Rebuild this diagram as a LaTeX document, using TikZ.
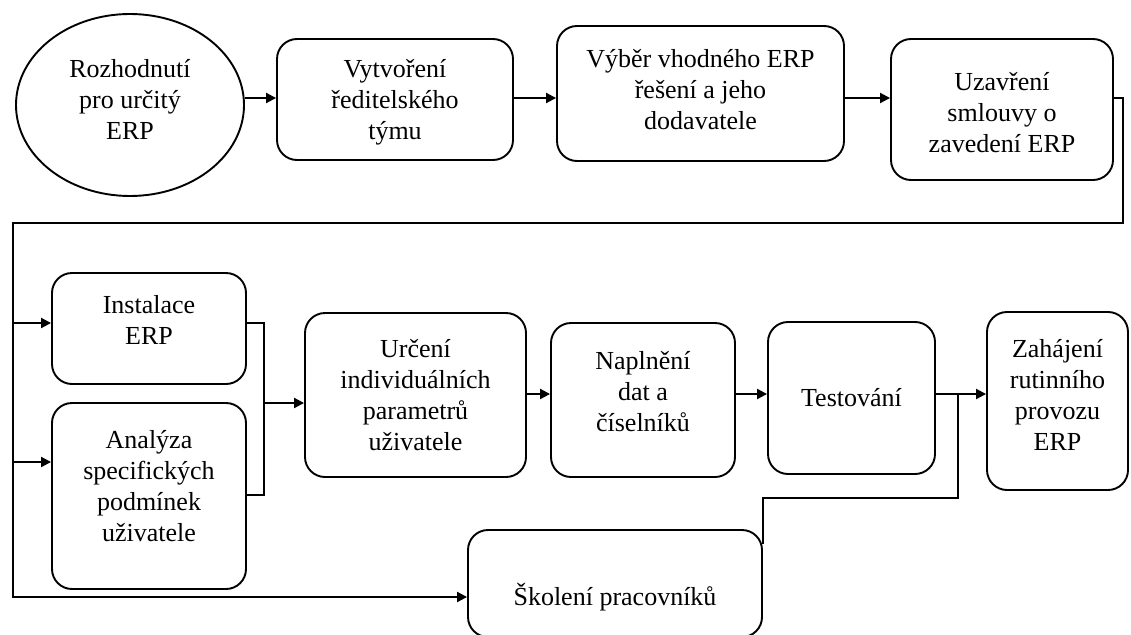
\documentclass[tikz,border=0pt]{standalone}
\usepackage{fontspec}
\setmainfont{Liberation Serif}
\usetikzlibrary{shapes.geometric,arrows.meta}
\begin{document}
\begin{tikzpicture}[x=1pt,y=-1pt,
  every node/.style={font=\fontsize{26}{31}\selectfont, align=center},
  stage/.style={draw, line width=1.9pt, rounded corners=20pt, inner sep=0pt},
  oval/.style={draw, line width=1.9pt, ellipse, inner sep=0pt},
  link/.style={line width=2pt},
  arr/.style={link, -{Triangle[length=10pt,width=10pt]}}]

\clip (0,0) rectangle (1131,634);

% first row
\node[oval, minimum width=228pt, minimum height=182pt,
  label={[yshift=6pt]center:{Rozhodnutí\\pro určitý\\ERP}}] (decide) at (130,105) {};
\node[stage, minimum width=236pt, minimum height=121pt,
  label={[yshift=-3pt]center:{Vytvoření\\ředitelského\\týmu}}] (team) at (395,99.5) {};
\node[stage, minimum width=287pt, minimum height=135pt,
  label={[yshift=4pt]center:{Výběr vhodného ERP\\řešení a jeho\\dodavatele}}] (choice) at (700.5,93.5) {};
\node[stage, minimum width=222pt, minimum height=141pt,
  label={[yshift=-3pt]center:{Uzavření\\smlouvy o\\zavedení ERP}}] (contract) at (1002,109.5) {};

% second row
\node[stage, minimum width=194pt, minimum height=111pt,
  label={[yshift=8.5pt]center:{Instalace\\ERP}}] (install) at (149,328.5) {};
\node[stage, minimum width=194pt, minimum height=186pt,
  label={[yshift=10pt]center:{Analýza\\specifických\\podmínek\\uživatele}}] (analysis) at (149,496) {};
\node[stage, minimum width=221pt, minimum height=164pt] (params) at (415.5,395)
  {Určení\\individuálních\\parametrů\\uživatele};
\node[stage, minimum width=184pt, minimum height=154pt,
  label={[yshift=8pt]center:{Naplnění\\dat a\\číselníků}}] (data) at (643,400) {};
\node[stage, minimum width=167pt, minimum height=152pt] (testing) at (851.5,398) {Testování};
\node[stage, minimum width=141pt, minimum height=178pt,
  label={[yshift=6pt]center:{Zahájení\\rutinního\\provozu\\ERP}}] (launch) at (1057.5,401) {};
\node[stage, minimum width=294pt, minimum height=107pt,
  label={[yshift=-13.5pt]center:{Školení pracovníků}}] (training) at (615,583.5) {};

% routing points
\coordinate (row1) at (0,98);
\coordinate (row2) at (0,394);
\coordinate (loopE) at (1123,223);
\coordinate (loopW) at (13,223);
\coordinate (feedA) at (13,323);
\coordinate (feedB) at (13,462);
\coordinate (feedC) at (13,597);
\coordinate (joinT) at (264,323);
\coordinate (joinM) at (264,403);
\coordinate (joinB) at (264,495);
\coordinate (split) at (958,394);
\coordinate (splitB) at (958,498);

% connectors
\draw[arr] (decide.east |- row1) -- (team.west |- row1);
\draw[arr] (team.east |- row1) -- (choice.west |- row1);
\draw[arr] (choice.east |- row1) -- (contract.west |- row1);
\draw[arr] (contract.east |- row1) -| (loopE) -- (loopW) |- (training.west |- feedC);
\draw[arr] (feedA) -- (install.west |- feedA);
\draw[arr] (feedB) -- (analysis.west |- feedB);
\draw[link] (install.east |- joinT) -- (joinT) -- (joinB) -- (analysis.east |- joinB);
\draw[arr] (joinM) -- (params.west |- joinM);
\draw[arr] (params.east |- row2) -- (data.west |- row2);
\draw[arr] (data.east |- row2) -- (testing.west |- row2);
\draw[arr] (testing.east |- row2) -- (launch.west |- row2);
\draw[link] (split) -- (splitB) -| ([yshift=-15pt]training.north east);
\end{tikzpicture}
\end{document}
